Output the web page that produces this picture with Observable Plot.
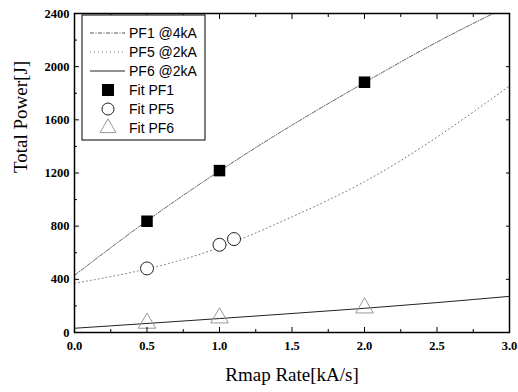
<!DOCTYPE html>
<html>
<head>
<meta charset="utf-8">
<script src="https://cdn.jsdelivr.net/npm/d3@7"></script>
<script src="https://cdn.jsdelivr.net/npm/@observablehq/plot@0.6"></script>
<style>
  body { margin: 0; background: #fff; }
  #wrap { position: relative; width: 518px; height: 392px; }
  #legend { position: absolute; left: 0; top: 0; }
  #wrap svg g[aria-label$="tick label"] text,
  #wrap svg g[aria-label$="tick label"] {
    font-family: "Liberation Serif", "Times New Roman", serif !important;
    font-weight: bold !important; font-size: 12.5px !important; fill: #000 !important;
  }
</style>
</head>
<body>
<div id="wrap"></div>
<script>
// Fit curves
const curveX = [0, 0.5, 1.0, 1.5, 2.0, 2.5, 3.0];
const pf1Curve = [430, 840, 1215, 1560, 1880, 2185, 2460];
const pf5Curve = [370, 478, 640, 870, 1135, 1470, 1855];
const pf6Curve = [32, 68, 105, 143, 182, 225, 272];

// Measured points
const pf1X = [0.5, 1.0, 2.0];
const pf1Y = [837, 1218, 1883];
const pf5X = [0.5, 1.0, 1.1];
const pf5Y = [482, 660, 703];
const pf6X = [0.5, 1.0, 2.0];
const pf6Y = [70, 110, 185];

const yTicks = [0, 400, 800, 1200, 1600, 2000, 2400];
const yMinor = [200, 600, 1000, 1400, 1800, 2200];
const xTicks = [0, 0.5, 1.0, 1.5, 2.0, 2.5, 3.0];
const xMinor = [0.25, 0.75, 1.25, 1.75, 2.25, 2.75];

const legendLabels = ["PF1 @4kA", "PF5 @2kA", "PF6 @2kA", "Fit PF1", "Fit PF5", "Fit PF6"];

const toRows = (xs, ys) => xs.map((x, i) => ({x, y: ys[i]}));

const chart = Plot.plot({
  width: 518,
  height: 392,
  marginLeft: 74,
  marginRight: 9,
  marginTop: 13,
  marginBottom: 60,
  style: {background: "#fff", color: "#000", fontFamily: "Liberation Serif"},
  x: {domain: [0, 3]},
  y: {domain: [0, 2400]},
  marks: [
    Plot.line(toRows(curveX, pf1Curve), {x: "x", y: "y", curve: "natural", stroke: "#555", strokeWidth: 0.9, strokeDasharray: "4,1.5,1,1.5", clip: true}),
    Plot.line(toRows(curveX, pf5Curve), {x: "x", y: "y", curve: "natural", stroke: "#777", strokeWidth: 1, strokeDasharray: "1,3", clip: true}),
    Plot.line(toRows(curveX, pf6Curve), {x: "x", y: "y", curve: "natural", stroke: "#222", strokeWidth: 1, clip: true}),
    Plot.dot(toRows(pf1X, pf1Y), {x: "x", y: "y", symbol: "square", r: 6.5, fill: "#000", stroke: "none"}),
    Plot.dot(toRows(pf5X, pf5Y), {x: "x", y: "y", symbol: "circle", r: 6.5, fill: "#fff", stroke: "#222", strokeWidth: 1}),
    Plot.dot(toRows(pf6X, pf6Y), {x: "x", y: "y", symbol: "triangle", r: 6.5, fill: "#fff", fillOpacity: 0, stroke: "#999", strokeWidth: 1}),
    Plot.frame({stroke: "#000", strokeWidth: 1.5}),
    Plot.axisY(yTicks, {anchor: "left", tickSize: -5, tickPadding: 10, tickFormat: d3.format("d"), label: null}),
    Plot.axisY(yMinor, {anchor: "left", tickSize: -3, text: null, label: null}),
    Plot.axisY(yTicks, {anchor: "right", tickSize: -4, text: null, label: null}),
    Plot.axisX(xTicks, {anchor: "bottom", tickSize: -5, tickPadding: 14, tickFormat: d3.format(".1f"), label: null}),
    Plot.axisX(xMinor, {anchor: "bottom", tickSize: -3, text: null, label: null}),
    Plot.axisX(xTicks, {anchor: "top", tickSize: -5, text: null, label: null}),
    Plot.axisX(xMinor, {anchor: "top", tickSize: -3, text: null, label: null}),
    Plot.text(["Rmap Rate[kA/s]"], {frameAnchor: "bottom", dy: 48, fontSize: 19, fontFamily: "Liberation Serif", fill: "#000"}),
    Plot.text(["Total Power[J]"], {frameAnchor: "left", dx: -54, rotate: -90, fontSize: 19, fontFamily: "Liberation Serif", fill: "#000"})
  ]
});
document.getElementById("wrap").appendChild(chart);

// Legend overlay
const lg = d3.select("#wrap").append("svg")
  .attr("id", "legend").attr("width", 518).attr("height", 392);
lg.append("rect").attr("x", 82).attr("y", 15).attr("width", 123).attr("height", 125)
  .attr("fill", "#fff").attr("stroke", "#000").attr("stroke-width", 1);
const rowY = i => 33 + i * 19;
const lineStyles = [
  {stroke: "#555", dash: "4,1.5,1,1.5"},
  {stroke: "#777", dash: "1,3"},
  {stroke: "#222", dash: null}
];
lineStyles.forEach((s, i) => {
  const l = lg.append("line").attr("x1", 90).attr("x2", 125).attr("y1", rowY(i)).attr("y2", rowY(i))
    .attr("stroke", s.stroke).attr("stroke-width", 1);
  if (s.dash) l.attr("stroke-dasharray", s.dash);
});
lg.append("rect").attr("x", 102).attr("y", rowY(3) - 6).attr("width", 12).attr("height", 12).attr("fill", "#000");
lg.append("circle").attr("cx", 108).attr("cy", rowY(4)).attr("r", 6).attr("fill", "#fff").attr("stroke", "#222");
lg.append("path").attr("d", d3.symbol(d3.symbolTriangle, 110)()).attr("transform", `translate(108,${rowY(5)})`)
  .attr("fill", "none").attr("stroke", "#999");
legendLabels.forEach((t, i) => {
  lg.append("text").attr("x", 129).attr("y", rowY(i)).attr("dy", "0.35em")
    .attr("font-family", "Liberation Sans").attr("font-size", 14).text(t);
});
</script>
</body>
</html>
